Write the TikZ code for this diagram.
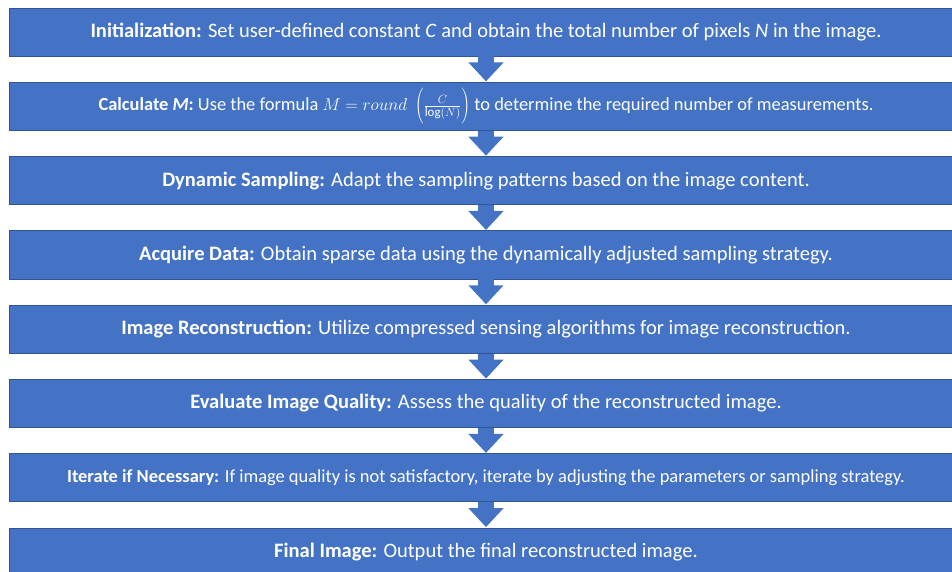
\documentclass[tikz,border=0pt]{standalone}
\usepackage{fontspec}
\setmainfont{Carlito}
\usetikzlibrary{arrows.meta}
\definecolor{boxblue}{HTML}{4472C4}
\definecolor{boxedge}{HTML}{2F5597}
% invisible strut centred on the math axis, used to size the parentheses
\newcommand{\parenstrut}{\vcenter{\hrule height 36bp width 0pt}}
\tikzset{
  stepbox/.style={fill=boxblue, draw=boxedge, line width=0.8bp, text=white,
    minimum width=954bp, minimum height=48bp, inner sep=0pt, align=center},
  bigtext/.style={font=\fontsize{20.6}{24}\selectfont},
  smalltext/.style={font=\fontsize{18.5}{22}\selectfont},
  flowarrow/.style={draw=boxblue, line width=16bp,
    -{Triangle[width=34bp,length=19bp]}, shorten >=0.5bp},
}
\begin{document}
\begin{tikzpicture}[x=1bp,y=-1bp]
  \useasboundingbox (0,0) rectangle (952,572);
  \fill[white] (0,0) rectangle (952,572);
  \clip (0,0) rectangle (952,572);
  % process steps, top to bottom
  \node[stepbox, bigtext] (s1) at (486,32)
    {\textbf{Initialization:} Set user-defined constant \textit{C} and obtain the total number of pixels \textit{N} in the image.};
  \node[stepbox, smalltext] (s2) at (486,106.3)
    {\textbf{Calculate \textit{M}:} Use the formula $M = round\;\left(\parenstrut\frac{C}{\log(N)}\right)$ to determine the required number of measurements.};
  \node[stepbox, bigtext] (s3) at (486,180.6)
    {\textbf{Dynamic Sampling:} Adapt the sampling patterns based on the image content.};
  \node[stepbox, bigtext] (s4) at (486,254.9)
    {\textbf{Acquire Data:} Obtain sparse data using the dynamically adjusted sampling strategy.};
  \node[stepbox, bigtext] (s5) at (486,329.2)
    {\textbf{Image Reconstruction:} Utilize compressed sensing algorithms for image reconstruction.};
  \node[stepbox, bigtext] (s6) at (486,403.5)
    {\textbf{Evaluate Image Quality:} Assess the quality of the reconstructed image.};
  \node[stepbox, smalltext] (s7) at (486,477.8)
    {\textbf{Iterate if Necessary:} If image quality is not satisfactory, iterate by adjusting the parameters or sampling strategy.};
  \node[stepbox, bigtext] (s8) at (486,552)
    {\textbf{Final Image:} Output the final reconstructed image.};
  % block arrows between consecutive steps
  \foreach \a/\b in {s1/s2,s2/s3,s3/s4,s4/s5,s5/s6,s6/s7,s7/s8}
    \draw[flowarrow] (\a.south) -- (\b.north);
\end{tikzpicture}
\end{document}
